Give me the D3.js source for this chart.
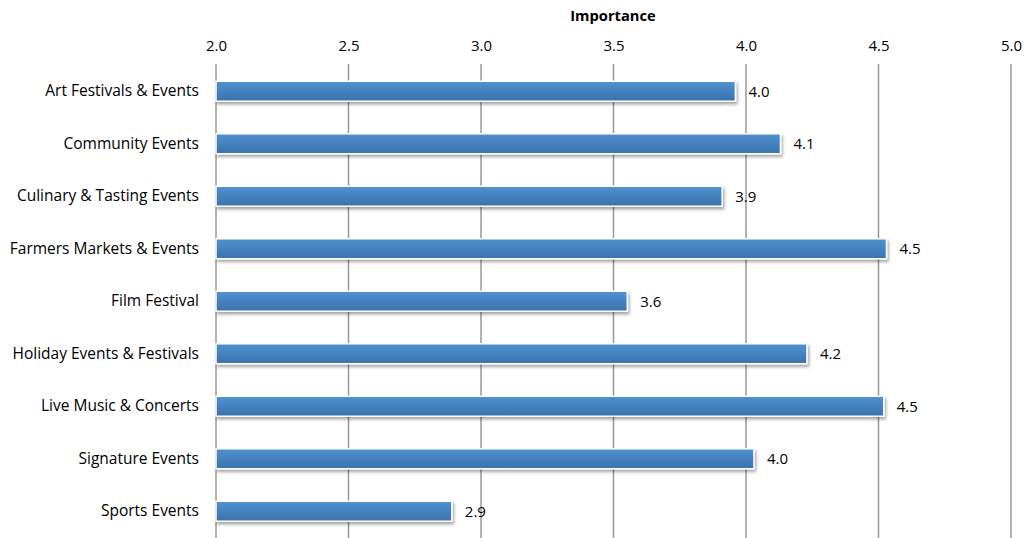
<!DOCTYPE html>
<html><head><meta charset="utf-8">
<script src="https://cdn.jsdelivr.net/npm/d3@7"></script>
<style>body{margin:0;background:#fff}svg{display:block}</style>
</head><body>
<svg id="c" width="1027" height="538"></svg>
<script>
const categories = ["Art Festivals & Events","Community Events","Culinary & Tasting Events","Farmers Markets & Events","Film Festival","Holiday Events & Festivals","Live Music & Concerts","Signature Events","Sports Events"];
const values = [3.96, 4.13, 3.91, 4.53, 3.552, 4.23, 4.52, 4.03, 2.89];
const tickValues = [2.0, 2.5, 3.0, 3.5, 4.0, 4.5, 5.0];
const axisTitle = "Importance";

const svg = d3.select("#c");
const font = "'Open Sans', 'DejaVu Sans', sans-serif";
const x = d3.scaleLinear().domain([2, 5]).range([216, 1011]);
const y = d3.scaleBand().domain(categories).range([65, 537.5]).paddingInner(0.62).paddingOuter(0.31);

const defs = svg.append("defs");
const g = defs.append("linearGradient").attr("id","bg").attr("x1",0).attr("y1",0).attr("x2",0).attr("y2",1);
g.append("stop").attr("offset","0%").attr("stop-color","#4f92d0");
g.append("stop").attr("offset","100%").attr("stop-color","#3a72ad");
const f = defs.append("filter").attr("id","sh").attr("x","-5%").attr("y","-30%").attr("width","110%").attr("height","180%");
f.append("feDropShadow").attr("dx",1.5).attr("dy",2.5).attr("stdDeviation",1.5).attr("flood-color","#000").attr("flood-opacity",0.35);

// gridlines
svg.append("g").selectAll("line").data(tickValues).join("line")
  .attr("x1", d => x(d)).attr("x2", d => x(d))
  .attr("y1", 64).attr("y2", 538)
  .attr("stroke", "#999").attr("stroke-width", 1.5);

// top axis
const ax = svg.append("g").attr("transform","translate(0,56)")
  .call(d3.axisTop(x).tickValues(tickValues).tickFormat(d3.format(".1f")).tickSize(0).tickPadding(5));
ax.select(".domain").remove();
ax.selectAll("text").attr("font-family", font).attr("font-size", 15).attr("fill","#000");

svg.append("text").attr("x", 613).attr("y", 21).attr("text-anchor","middle")
  .attr("font-family", font).attr("font-size", 14.7).attr("font-weight","bold").text(axisTitle);

// category labels
const ay = svg.append("g").attr("transform","translate(216,0)")
  .call(d3.axisLeft(y).tickSize(0).tickPadding(17));
ay.select(".domain").remove();
ay.selectAll("text").attr("font-family", font).attr("font-size", 15.5).attr("fill","#000");

// bars
svg.append("g").selectAll("rect").data(values).join("rect")
  .attr("x", x(2))
  .attr("y", (d,i) => y(categories[i]))
  .attr("width", d => x(d) - x(2))
  .attr("height", y.bandwidth())
  .attr("fill", "url(#bg)")
  .attr("stroke", "#fff").attr("stroke-width", 1.5)
  .attr("filter", "url(#sh)");

// value labels
svg.append("g").selectAll("text").data(values).join("text")
  .attr("x", d => x(d) + 13)
  .attr("y", (d,i) => y(categories[i]) + y.bandwidth()/2)
  .attr("dy", "0.35em")
  .attr("font-family", font).attr("font-size", 15).attr("fill","#000")
  .text(d => d.toFixed(1));
</script>
</body></html>
